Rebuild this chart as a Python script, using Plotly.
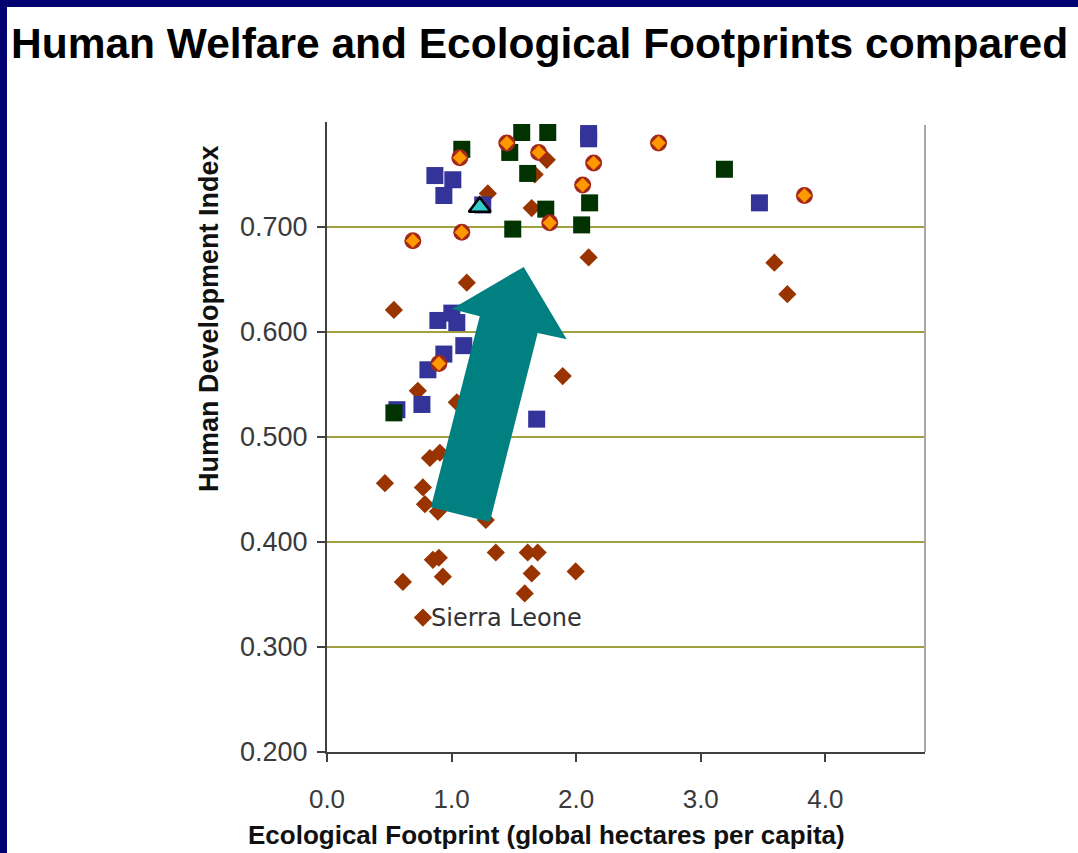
import plotly.graph_objects as go

# Ecological footprint (gha per capita) and HDI, grouped by marker series
brown_x = [1.764, 1.667, 1.291, 1.643, 2.100, 1.122, 0.537, 3.591, 3.695, 1.892,
           0.729, 1.042, 0.826, 0.906, 0.465, 0.770, 0.786, 0.890, 1.275, 0.850,
           0.898, 0.930, 0.609, 1.355, 1.611, 1.691, 1.643, 1.587, 1.996, 0.770]
brown_y = [0.764, 0.750, 0.732, 0.718, 0.671, 0.647, 0.621, 0.666, 0.636, 0.558,
           0.544, 0.533, 0.480, 0.485, 0.456, 0.452, 0.436, 0.429, 0.421, 0.383,
           0.385, 0.367, 0.362, 0.390, 0.390, 0.390, 0.370, 0.351, 0.372, 0.328]

blue_x = [2.100, 2.100, 0.866, 1.010, 0.938, 1.250, 3.471, 0.890, 1.002, 1.042,
          1.098, 0.938, 0.810, 0.561, 0.762, 1.683]
blue_y = [0.789, 0.784, 0.749, 0.745, 0.730, 0.721, 0.723, 0.611, 0.618, 0.609,
          0.587, 0.579, 0.564, 0.526, 0.531, 0.517]

green_x = [1.082, 1.563, 1.772, 1.467, 1.611, 1.756, 2.108, 1.491, 2.044, 3.190, 0.537]
green_y = [0.774, 0.790, 0.790, 0.771, 0.751, 0.717, 0.723, 0.698, 0.702, 0.755, 0.523]

orange_x = [1.443, 1.066, 1.699, 2.140, 2.052, 1.788, 1.082, 0.689, 2.661, 3.832, 0.898]
orange_y = [0.780, 0.766, 0.771, 0.761, 0.740, 0.704, 0.695, 0.687, 0.780, 0.730, 0.570]

cyan_x = [1.226]
cyan_y = [0.719]

label_name = "Sierra Leone"
label_x = 0.770
label_y = 0.328

x_ticks = [0, 1, 2, 3, 4]
y_ticks = [0.2, 0.3, 0.4, 0.5, 0.6, 0.7]

# Teal trend arrow outline (footprint, HDI)
arrow_pts = [(1.579, 0.662), (1.924, 0.593), (1.691, 0.599), (1.307, 0.419),
             (0.834, 0.433), (1.226, 0.615), (1.002, 0.622)]

L, R, T, B = 327, 925, 122, 752
W, H = 1078, 853


def px_x(p):
    return (p - L) / (R - L)


def px_y(p):
    return (B - p) / (B - T)


fig = go.Figure()

fig.add_trace(go.Scatter(x=brown_x, y=brown_y, mode="markers",
                         marker=dict(symbol="diamond", size=14, color="#993300",
                                     line=dict(width=0))))
fig.add_trace(go.Scatter(x=blue_x, y=blue_y, mode="markers",
                         marker=dict(symbol="square", size=17, color="#333399",
                                     line=dict(width=0))))
fig.add_trace(go.Scatter(x=green_x, y=green_y, mode="markers",
                         marker=dict(symbol="square", size=17, color="#003300",
                                     line=dict(width=0))))
fig.add_trace(go.Scatter(x=orange_x, y=orange_y, mode="markers",
                         marker=dict(symbol="circle", size=17, color="#A3281A",
                                     line=dict(width=0))))
fig.add_trace(go.Scatter(x=orange_x, y=orange_y, mode="markers",
                         marker=dict(symbol="diamond", size=11, color="#FF9900",
                                     line=dict(width=0))))
fig.add_trace(go.Scatter(x=cyan_x, y=cyan_y, mode="markers",
                         marker=dict(symbol="triangle-up", size=19, color="#33CCCC",
                                     line=dict(width=2.5, color="#000000"))))

path = "M " + " L ".join(f"{x},{y}" for x, y in arrow_pts) + " Z"

shapes = [
    # slide frame
    dict(type="rect", xref="paper", yref="paper", layer="below",
         x0=px_x(0), x1=px_x(W), y0=px_y(7), y1=px_y(0),
         fillcolor="#000070", line=dict(width=0)),
    dict(type="rect", xref="paper", yref="paper", layer="below",
         x0=px_x(0), x1=px_x(7), y0=px_y(H), y1=px_y(0),
         fillcolor="#000070", line=dict(width=0)),
    # right plot border
    dict(type="line", xref="paper", yref="paper", x0=1, x1=1, y0=0, y1=px_y(125),
         line=dict(color="#A8A8A8", width=2)),
    # trend arrow
    dict(type="path", xref="x", yref="y", path=path, layer="above",
         fillcolor="#008080", line=dict(width=0)),
]

annotations = [
    dict(text="<b>Human Welfare and Ecological Footprints compared</b>",
         xref="paper", yref="paper", x=px_x(9), y=px_y(43),
         xanchor="left", yanchor="middle", showarrow=False,
         font=dict(family="Liberation Sans, Arial", size=42.5, color="#000000")),
    dict(text="<b>Human Development Index</b>", textangle=-90,
         xref="paper", yref="paper", x=px_x(209), y=px_y(319),
         xanchor="center", yanchor="middle", showarrow=False,
         font=dict(family="Liberation Sans, Arial", size=27, color="#111111")),
    dict(text="<b>Ecological Footprint (global hectares per capita)</b>",
         xref="paper", yref="paper", x=px_x(546), y=px_y(835),
         xanchor="center", yanchor="middle", showarrow=False,
         font=dict(family="Liberation Sans, Arial", size=26, color="#111111")),
    dict(text=label_name, x=label_x, y=label_y, xref="x", yref="y",
         xanchor="left", yanchor="middle", xshift=6, showarrow=False,
         font=dict(family="DejaVu Sans", size=24, color="#333333")),
]

fig.update_layout(
    width=W, height=H,
    margin=dict(l=L, r=W - R, t=T, b=H - B, pad=0),
    paper_bgcolor="#FFFFFF", plot_bgcolor="#FFFFFF",
    showlegend=False,
    shapes=shapes, annotations=annotations,
    xaxis=dict(range=[0, 4.8], tickvals=x_ticks, tickformat=".1f",
               showgrid=False, zeroline=False,
               showline=True, linecolor="#404040", linewidth=2,
               ticks="outside", ticklen=8, tickwidth=2, tickcolor="#404040",
               ticklabelstandoff=15,
               tickfont=dict(family="Liberation Sans, Arial", size=26, color="#3a3a3a")),
    yaxis=dict(range=[0.2, 0.8], tickvals=y_ticks, tickformat=".3f",
               showgrid=True, gridcolor="#A0A040", gridwidth=2, zeroline=False,
               showline=True, linecolor="#404040", linewidth=2,
               ticks="outside", ticklen=8, tickwidth=2, tickcolor="#404040",
               ticklabelstandoff=4,
               tickfont=dict(family="Liberation Sans, Arial", size=27, color="#3a3a3a")),
)

fig.write_html("out.html")
